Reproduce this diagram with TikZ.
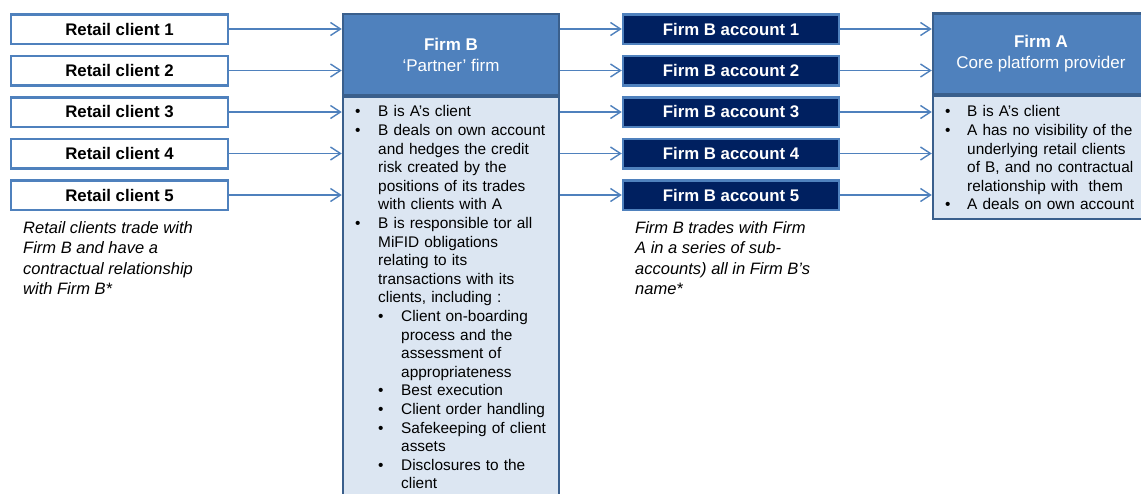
\documentclass[tikz,border=0pt]{standalone}
\usepackage{fontspec}
\setmainfont{Liberation Sans}
\usetikzlibrary{arrows.meta}
\definecolor{midblue}{HTML}{4F81BD}
\definecolor{darkblue}{HTML}{3A5F8C}
\definecolor{navyfill}{HTML}{002060}
\definecolor{paleblue}{HTML}{DCE6F2}
\newcommand{\bl}[2][23pt]{\par\hangindent=#1\hangafter=1\noindent\makebox[#1][l]{\textbullet}#2}
\newcommand{\sbl}[1]{\par\hangindent=46pt\hangafter=1\noindent\hspace*{23pt}\makebox[23pt][l]{\textbullet}#1}
\newcommand{\nl}{\newline}
\tikzset{
  clientbox/.style={draw=midblue, line width=2.5pt, fill=white, minimum width=217pt, minimum height=29.5pt, inner sep=0pt, font=\fontsize{16.8}{20}\selectfont\bfseries},
  acctbox/.style={draw=midblue, line width=2.5pt, fill=navyfill, text=white, minimum width=216pt, minimum height=29.5pt, inner sep=0pt, font=\fontsize{16.8}{20}\selectfont\bfseries},
  headbox/.style={draw=darkblue, line width=2.5pt, fill=midblue, text=white, align=center, minimum width=216pt, minimum height=81pt, inner sep=0pt, font=\fontsize{17}{21}\selectfont},
  bodybox/.style={draw=darkblue, line width=2.5pt, fill=paleblue, minimum width=216pt, inner sep=0pt, anchor=north},
  flow/.style={draw=midblue, line width=1.4pt, -{Straight Barb[length=10pt,width=13pt,line width=1.4pt]}},
  caption/.style={anchor=north west, align=left, inner sep=0pt, font=\fontsize{16.5}{20.5}\selectfont\itshape},
  bodytext/.style={anchor=north west, align=left, inner sep=0pt, font=\fontsize{15.4}{18.6}\selectfont}
}
\begin{document}
\begin{tikzpicture}[x=1pt, y=-1pt]
\clip (0,0) rectangle (1141,493);
\fill[white] (0,0) rectangle (1141,493);

% Retail clients
\foreach \i/\y in {1/29, 2/70.5, 3/112, 4/153.5, 5/195}{
  \node[clientbox] (rc\i) at (119.5,\y) {Retail client \i};
}
% Firm B
\node[bodybox, minimum height=420pt] (fbbody) at (451,95) {};
\node[headbox] (fbhead) at (451,54.5) {\textbf{Firm B}\\‘Partner’ firm};
\node[bodytext, text width=200pt] (fbtext) at (355,98) {%
\bl{B is A’s client}
\bl{B deals on own account\nl and hedges the credit\nl risk created by the\nl positions of its trades\nl with clients with A}
\bl{B is responsible tor all\nl MiFID obligations\nl relating to its\nl transactions with its\nl clients, including :}
\sbl{Client on-boarding\nl process and the\nl assessment of\nl appropriateness}
\sbl{Best execution}
\sbl{Client order handling}
\sbl{Safekeeping of client\nl assets}
\sbl{Disclosures to the\nl client}\par};

% Accounts
\foreach \i/\y in {1/29, 2/70.5, 3/112, 4/153.5, 5/195}{
  \node[acctbox] (ac\i) at (731,\y) {Firm B account \i};
}
% Firm A
\node[bodybox, minimum height=123pt] (fabody) at (1041,94.5) {};
\node[headbox] (fahead) at (1041,54) {\textbf{Firm A}\\Core platform provider};
\node[bodytext, text width=195pt] (fatext) at (945,98) {%
\bl[22pt]{B is A’s client}
\bl[22pt]{A has no visibility of the\nl underlying retail clients\nl of B, and no contractual\nl relationship with \ them}
\bl[22pt]{A deals on own account}\par};

% Captions
\node[caption] (cap1) at (23,221) {Retail clients trade with\\Firm B and have a\\contractual relationship\\with Firm B*};
\node[caption] (cap2) at (635,221) {Firm B trades with Firm\\A in a series of sub-\\accounts) all in Firm B’s\\name*};

% Connectors
\foreach \i in {1,...,5}{
  \draw[flow] (rc\i.east) -- (rc\i.east -| fbhead.west);
  \coordinate (fbout\i) at (ac\i.west -| fbhead.east);
  \draw[flow] (fbout\i) -- (ac\i.west);
  \draw[flow] (ac\i.east) -- (ac\i.east -| fahead.west);
}
\end{tikzpicture}
\end{document}
